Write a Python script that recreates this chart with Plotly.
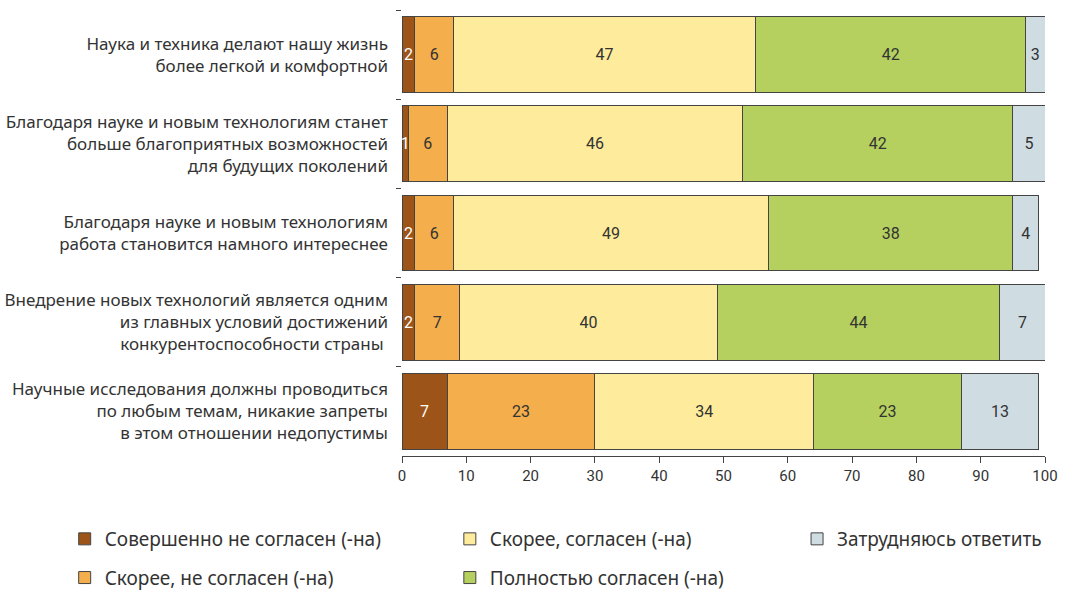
import plotly.graph_objects as go

# statements (top to bottom)
categories = [
    "Наука и техника делают нашу жизнь<br>более легкой и комфортной",
    "Благодаря науке и новым технологиям станет<br>больше благоприятных возможностей<br>для будущих поколений",
    "Благодаря науке и новым технологиям<br>работа становится намного интереснее",
    "Внедрение новых технологий является одним<br>из главных условий достижений<br>конкурентоспособности страны ",
    "Научные исследования должны проводиться<br>по любым темам, никакие запреты<br>в этом отношении недопустимы",
]

series_names = [
    "Совершенно не согласен (-на)",
    "Скорее, не согласен (-на)",
    "Скорее, согласен (-на)",
    "Полностью согласен (-на)",
    "Затрудняюсь ответить",
]

# bar lengths as drawn (%)
strongly_disagree = [2, 1, 2, 2, 7]
rather_disagree = [6, 6, 6, 7, 23]
rather_agree = [47, 46, 49, 40, 34]
fully_agree = [42, 42, 38, 44, 23]
hard_to_say = [3, 5, 4, 7, 12]

# printed labels
hard_to_say_labels = [3, 5, 4, 7, 13]

series_values = [strongly_disagree, rather_disagree, rather_agree, fully_agree, hard_to_say]
series_labels = [strongly_disagree, rather_disagree, rather_agree, fully_agree, hard_to_say_labels]

colors = ["#9C5418", "#F4AE4C", "#FEEC9C", "#B5D05F", "#CFDDE3"]
text_colors = ["white", "#333333", "#333333", "#333333", "#333333"]

# which legend box (column) each series goes to
legend_ids = ["legend", "legend", "legend2", "legend2", "legend3"]

fig = go.Figure()
for i, name in enumerate(series_names):
    fig.add_trace(go.Bar(
        y=categories,
        x=series_values[i],
        name=name,
        orientation="h",
        text=[str(v) for v in series_labels[i]],
        textposition="inside",
        insidetextanchor="middle",
        textangle=0,
        textfont=dict(color=text_colors[i], size=16, family="Roboto, sans-serif"),
        marker=dict(color=colors[i], line=dict(color="#444444", width=1)),
        legend=legend_ids[i],
        legendgroup=name,
        hoverinfo="skip",
    ))

legend_style = dict(
    orientation="v",
    yanchor="top",
    y=-0.1435,
    xanchor="left",
    font=dict(size=19, color="#333333", family="Noto Sans, sans-serif"),
    tracegroupgap=11,
    bgcolor="rgba(0,0,0,0)",
    itemclick=False,
)

fig.update_layout(
    width=1072,
    height=593,
    plot_bgcolor="white",
    paper_bgcolor="white",
    font=dict(family="Noto Sans, sans-serif", color="#333333", size=15),
    barmode="stack",
    bargap=0.15,
    margin=dict(l=402, r=27, t=10, b=137, autoexpand=False),
    uniformtext=dict(minsize=16, mode="show"),
    xaxis=dict(
        range=[0, 100],
        dtick=10,
        ticks="outside",
        ticklen=6,
        tickcolor="#444444",
        showline=True,
        linecolor="#444444",
        linewidth=1,
        showgrid=False,
        zeroline=False,
        automargin=False,
        tickfont=dict(size=15, color="#333333", family="Roboto, sans-serif"),
    ),
    yaxis=dict(
        autorange="reversed",
        tickson="boundaries",
        ticks="outside",
        ticklen=5,
        tickcolor="#444444",
        showline=False,
        showgrid=False,
        automargin=False,
        ticklabelstandoff=13,
        tickfont=dict(size=17, color="#333333"),
    ),
    legend=dict(legend_style, x=-0.5246),
    legend2=dict(legend_style, x=0.0744),
    legend3=dict(legend_style, x=0.6144),
)

# drop the default page margin so the figure sits at the window's corner
fig.write_html(
    "out.html",
    config={"displayModeBar": False},
    post_script="document.body.style.margin='0';",
)
